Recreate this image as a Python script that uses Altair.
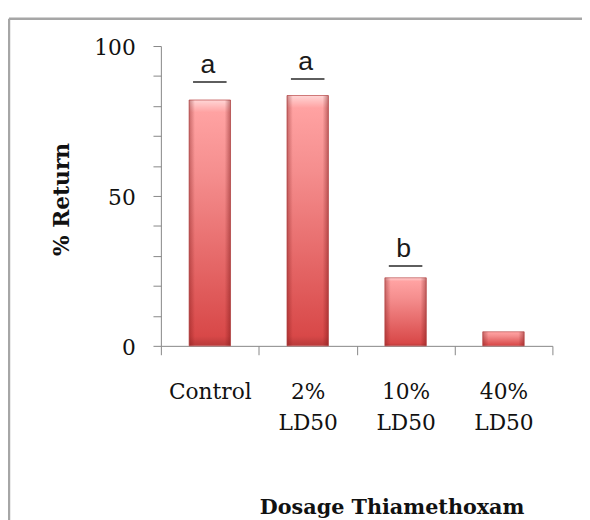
import altair as alt
import pandas as pd

categories = ["Control", "2% LD50", "10% LD50", "40% LD50"]
returns = [82.0, 83.5, 22.7, 4.7]

sig_categories = ["Control", "2% LD50", "10% LD50"]
sig_letters = ["a", "a", "b"]
sig_heights = [88.0, 89.0, 26.6]

y_tick_values = [0, 10, 20, 30, 40, 50, 60, 70, 80, 90, 100]

bars_df = pd.DataFrame({"dose": categories, "ret": returns})
sig_df = pd.DataFrame({"dose": sig_categories, "letter": sig_letters, "h": sig_heights})
frame_df = pd.DataFrame({"k": [0]})

SERIF = "DejaVu Serif"
AXIS_COL = "#868686"

x_axis = alt.Axis(
    title="Dosage Thiamethoxam",
    labelAngle=0,
    labelExpr="datum.value ? split(datum.value, ' ') : ''",
    labelFont=SERIF,
    labelFontSize=22,
    labelColor="#111111",
    labelLineHeight=32,
    labelPadding=27,
    tickBand="extent",
    tickSize=9,
    tickColor=AXIS_COL,
    domainColor=AXIS_COL,
    titleFont=SERIF,
    titleFontSize=21,
    titleFontWeight="bold",
    titleColor="#111111",
    titleAnchor="start",
    titleAlign="center",
    titleBaseline="alphabetic",
    titleX=234,
    titleY=170,
)

y_axis = alt.Axis(
    title="% Return",
    values=y_tick_values,
    labelExpr="datum.value % 50 == 0 ? datum.label : ''",
    labelOverlap=False,
    labelFont=SERIF,
    labelFontSize=22,
    labelColor="#111111",
    labelPadding=18,
    labelBaseline="middle",
    labelOffset=2,
    tickSize=8,
    tickColor=AXIS_COL,
    domainColor=AXIS_COL,
    grid=False,
    titleFont=SERIF,
    titleFontSize=22,
    titleFontWeight="bold",
    titleColor="#111111",
    titleAngle=270,
    titleAlign="center",
    titleBaseline="middle",
    titleX=-101,
    titleY=155,
)

x_scale = alt.Scale(paddingInner=0, paddingOuter=0)
y_scale = alt.Scale(domain=[0, 100], nice=False)


def xenc():
    return alt.X("dose:N", sort=categories, scale=x_scale, axis=x_axis)


def yenc(field):
    return alt.Y(field + ":Q", scale=y_scale, axis=y_axis)


vertical_grad = alt.LinearGradient(
    gradient="linear",
    stops=[
        alt.GradientStop(color="#ffd6d6", offset=0),
        alt.GradientStop(color="#ffa2a2", offset=0.05),
        alt.GradientStop(color="#f58e8e", offset=0.3),
        alt.GradientStop(color="#d84848", offset=0.96),
        alt.GradientStop(color="#b83a3a", offset=1),
    ],
    x1=0, x2=0, y1=0, y2=1,
)

side_grad = alt.LinearGradient(
    gradient="linear",
    stops=[
        alt.GradientStop(color="rgba(120,20,20,0.40)", offset=0),
        alt.GradientStop(color="rgba(120,20,20,0)", offset=0.14),
        alt.GradientStop(color="rgba(120,20,20,0)", offset=0.86),
        alt.GradientStop(color="rgba(120,20,20,0.45)", offset=1),
    ],
    x1=0, x2=1, y1=0, y2=0,
)

base = alt.Chart(bars_df)

bars = base.mark_bar(size=42, color=vertical_grad, stroke="#c25858", strokeWidth=0.8).encode(
    x=xenc(), y=yenc("ret")
)
shade = base.mark_bar(size=42, color=side_grad).encode(x=xenc(), y=yenc("ret"))

sig = alt.Chart(sig_df)
sig_lines = sig.mark_tick(size=34, thickness=2, color="#1a1a1a").encode(
    x=xenc(), y=yenc("h")
)
sig_text = sig.mark_text(
    font="Liberation Sans", fontSize=27, color="#1a1a1a", baseline="alphabetic", dy=-9, dx=-2
).encode(x=xenc(), y=yenc("h"), text="letter:N")

frame_top = alt.Chart(frame_df).mark_rule(color="#a6a6a6", strokeWidth=2.5).encode(
    x=alt.value(-154), x2=alt.value(700), y=alt.value(-27.7)
)
frame_left = alt.Chart(frame_df).mark_rule(color="#a6a6a6", strokeWidth=2.5).encode(
    x=alt.value(-154), y=alt.value(-27.7), y2=alt.value(700)
)

chart = (
    alt.layer(bars, shade, sig_lines, sig_text, frame_top, frame_left)
    .properties(
        width=397,
        height=304,
        padding={"left": 155, "top": 35, "right": 30, "bottom": 173},
        autosize=alt.AutoSizeParams(type="none"),
        background="white",
    )
    .configure_view(strokeWidth=0)
)

chart.save("out.html", embed_options={"renderer": "svg", "actions": False})
